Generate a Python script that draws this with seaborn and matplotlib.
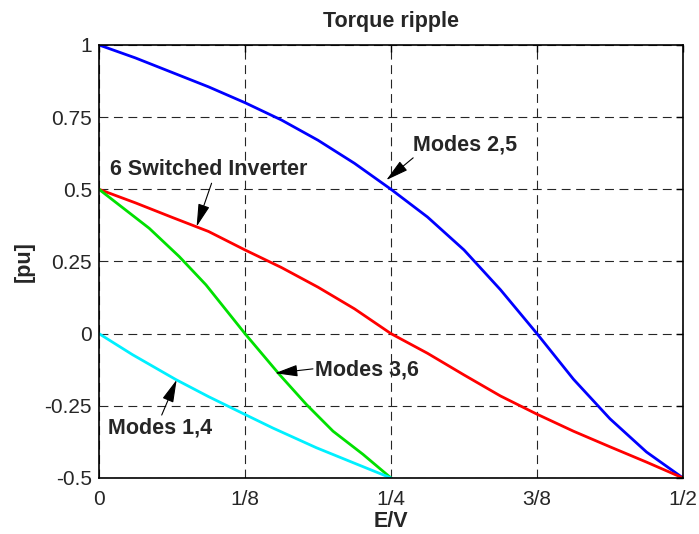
import pandas as pd
import matplotlib
matplotlib.use('Agg')
import matplotlib.pyplot as plt
import seaborn as sns

# Values (x in E/V, y in pu)
x_full = [0, 0.03125, 0.0625, 0.09375, 0.125, 0.15625, 0.1875, 0.21875, 0.25,
          0.28125, 0.3125, 0.34375, 0.375, 0.40625, 0.4375, 0.46875, 0.5]
modes_25 = [1.0, 0.955, 0.905, 0.855, 0.80, 0.74, 0.67, 0.59, 0.50,
            0.404, 0.29, 0.152, 0.0, -0.158, -0.295, -0.41, -0.5]
inverter_6 = [0.5, 0.453, 0.403, 0.354, 0.29, 0.229, 0.161, 0.086, 0.0,
              -0.068, -0.143, -0.216, -0.279, -0.338, -0.392, -0.445, -0.5]

x_36 = [0, 0.043, 0.0687, 0.0916, 0.125, 0.1546, 0.1775, 0.2004, 0.226, 0.25]
modes_36 = [0.5, 0.365, 0.267, 0.169, 0.0, -0.142, -0.245, -0.338, -0.418, -0.5]
x_14 = [0, 0.0286, 0.0658, 0.0937, 0.125, 0.1489, 0.186, 0.2176, 0.25]
modes_14 = [0.0, -0.0726, -0.159, -0.218, -0.28, -0.327, -0.395, -0.447, -0.5]

xtick_vals = [0, 0.125, 0.25, 0.375, 0.5]
xtick_labels = ['0', '1/8', '1/4', '3/8', '1/2']
ytick_vals = [-0.5, -0.25, 0, 0.25, 0.5, 0.75, 1]
ytick_labels = ['-0.5', '-0.25', '0', '0.25', '0.5', '0.75', '1']

df_full = pd.DataFrame({'x': x_full, 'Modes 2,5': modes_25, '6 Switched Inverter': inverter_6})
df_36 = pd.DataFrame({'x': x_36, 'Modes 3,6': modes_36})
df_14 = pd.DataFrame({'x': x_14, 'Modes 1,4': modes_14})

sns.set_style("white")
plt.rcParams['font.family'] = ['Liberation Sans', 'DejaVu Sans']
plt.rcParams['xtick.direction'] = 'in'
plt.rcParams['ytick.direction'] = 'in'

fig = plt.figure(figsize=(6.99, 5.34), dpi=100)
ax = fig.add_axes([0.1416, 0.1049, 0.8355, 0.8109])

sns.lineplot(data=df_full, x='x', y='Modes 2,5', color='#0000ff', lw=2, ax=ax)
sns.lineplot(data=df_full, x='x', y='6 Switched Inverter', color='#ff0000', lw=2, ax=ax)
sns.lineplot(data=df_36, x='x', y='Modes 3,6', color='#00e000', lw=2, ax=ax)
sns.lineplot(data=df_14, x='x', y='Modes 1,4', color='#00f0ff', lw=2, ax=ax)

ax.set_xlim(0, 0.5)
ax.set_ylim(-0.5, 1)
ax.set_xticks(xtick_vals)
ax.set_xticklabels(xtick_labels)
ax.set_yticks(ytick_vals)
ax.set_yticklabels(ytick_labels)
ax.tick_params(axis='both', labelsize=15, length=5, width=1, color='k',
               top=True, right=True)
ax.tick_params(axis='x', pad=9)
ax.tick_params(axis='y', pad=5)
for s in ax.spines.values():
    s.set_color('k')
    s.set_linewidth(1.2)

ax.grid(True, color='0.15', linestyle=(0, (8, 5)), linewidth=0.8)
ax.set_axisbelow(True)

ax.set_title('Torque ripple', fontsize=15.5, fontweight='bold', pad=13)
ax.set_xlabel('E/V', fontsize=15.5, fontweight='bold', labelpad=1)
ax.set_ylabel('[pu]', fontsize=15.5, fontweight='bold', labelpad=7)

# text labels with arrows
arrow = dict(arrowstyle='-|>,head_length=0.7,head_width=0.18', color='k',
             lw=0.8, mutation_scale=20, shrinkA=0, shrinkB=0)
labels = [
    ('Modes 2,5', (0.269, 0.654), (0.269, 0.609), (0.246, 0.532)),
    ('6 Switched Inverter', (0.0094, 0.567), (0.0964, 0.521), (0.0836, 0.371)),
    ('Modes 3,6', (0.185, -0.126), (0.1832, -0.122), (0.1507, -0.137)),
    ('Modes 1,4', (0.0077, -0.328), (0.0537, -0.282), (0.0665, -0.160)),
]
for txt, pos, tail, tip in labels:
    ax.text(pos[0], pos[1], txt, fontsize=15.5, fontweight='bold',
            ha='left', va='center')
    ax.annotate('', xy=tip, xytext=tail, arrowprops=arrow)

fig.savefig('out.png', dpi=100)
